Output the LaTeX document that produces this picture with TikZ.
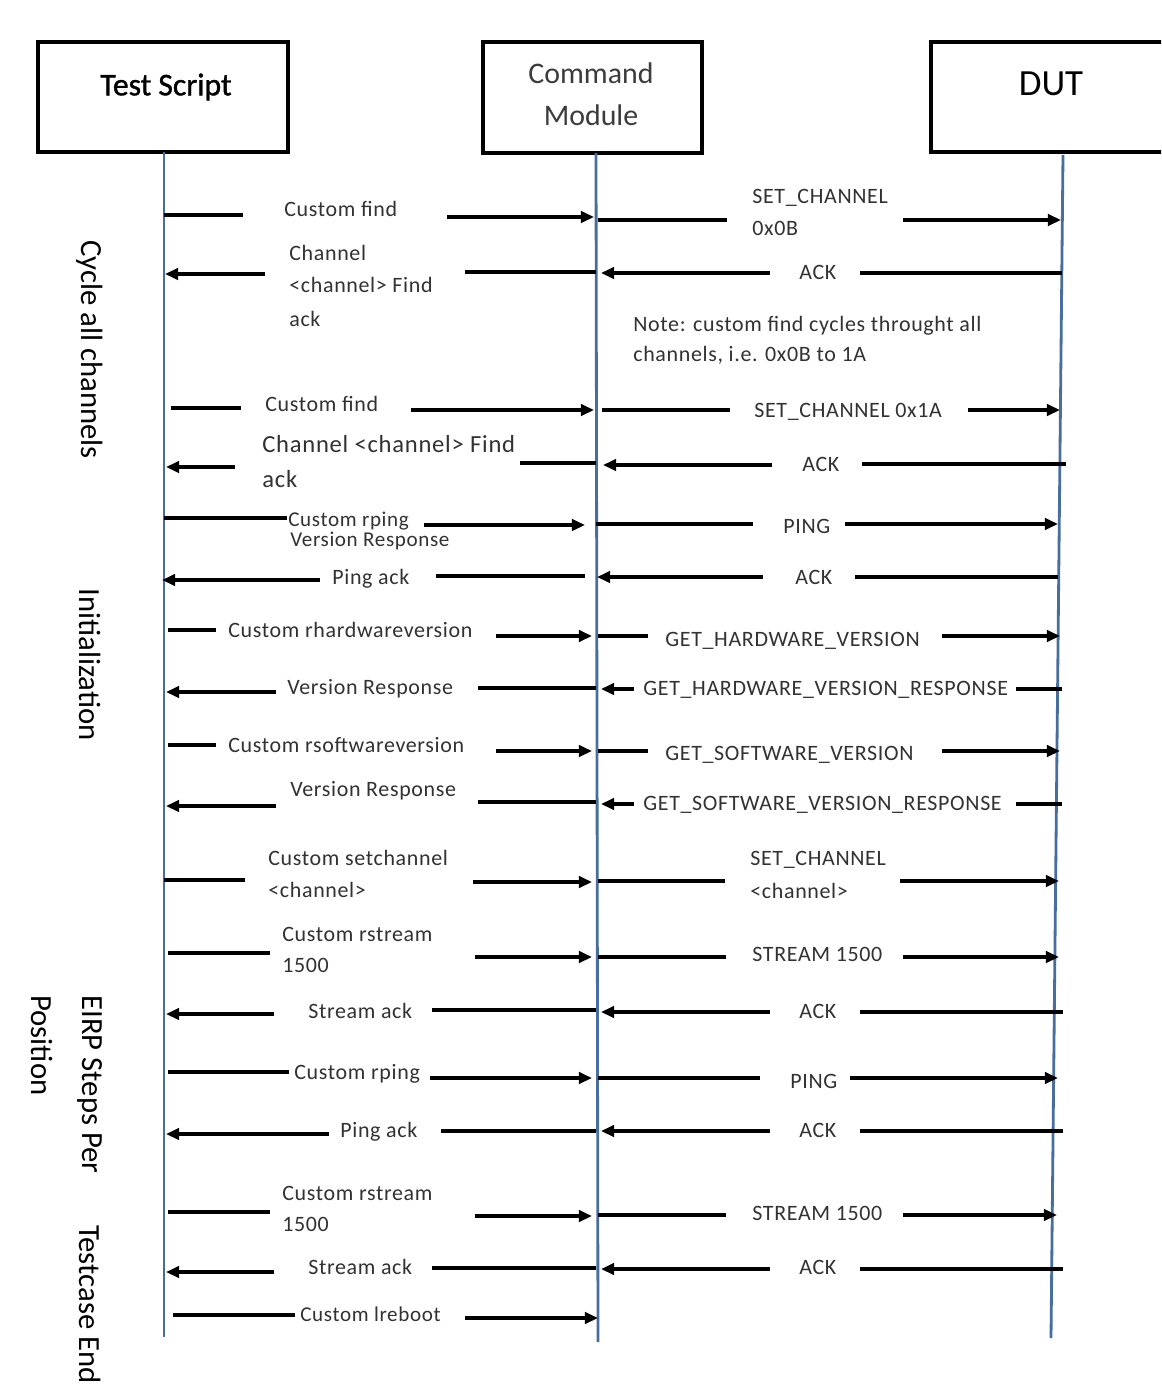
\documentclass[tikz,border=0pt]{standalone}
\usepackage{fontspec}
\setmainfont{Carlito}
\newfontfamily\lblfont[LetterSpace=3]{Carlito}
\newfontfamily\hdrfont[FakeBold=1.2]{Carlito}
\usetikzlibrary{arrows.meta}
\definecolor{lifeblue}{RGB}{72,110,160}
\definecolor{lblgrey}{RGB}{50,50,50}
\definecolor{hdrgrey}{RGB}{60,60,60}
\tikzset{
  box/.style={draw=black, line width=2.6pt},
  life/.style={draw=lifeblue, line width=1.6pt},
  msgl/.style={draw=black, line width=2pt},
  msga/.style={draw=black, line width=2pt, -{Triangle[length=7.5pt,width=6.5pt]}},
  lbl/.style={font=\lblfont\fontsize{12.5}{15}\selectfont, text=lblgrey, inner sep=0, anchor=base west},
  lblbig/.style={font=\lblfont\fontsize{14}{17}\selectfont, text=lblgrey, inner sep=0, anchor=base west},
  lblsm/.style={font=\lblfont\fontsize{12}{14}\selectfont, text=lblgrey, inner sep=0, anchor=base west},
  hdr/.style={font=\hdrfont\fontsize{18}{22}\selectfont, inner sep=0},
  side/.style={font=\fontsize{17.5}{21}\selectfont, rotate=-90, inner sep=0, anchor=west},
}
\begin{document}
\begin{tikzpicture}[x=0.02cm, y=-0.02cm]
\useasboundingbox (0,0) rectangle (1161,1399);
\clip (0,0) rectangle (1161,1399);
\fill[white] (0,0) rectangle (1161,1399);

% Header boxes
\draw[box] (38,42) rectangle (288,152);
\node[hdr] (tsT) at (166,87) {Test Script};
\draw[box] (483,42) rectangle (702,153);
\node[hdr, font=\fontsize{17}{22}\selectfont, text=hdrgrey] (cmT1) at (591,73) {Command};
\node[hdr, font=\fontsize{17}{22}\selectfont, text=hdrgrey] (cmT2) at (591,115) {Module};
\draw[box] (931,42) rectangle (1180,152);
\node[hdr, font=\fontsize{21}{25}\selectfont] (dutT) at (1051,84) {DUT};

% Lifelines
\coordinate (tsA) at (164,152); \coordinate (tsB) at (164,1337);
\coordinate (cmA) at (596,153); \coordinate (cmB) at (598,1342);
\coordinate (duA) at (1063,155); \coordinate (duB) at (1051,1338);
\draw[life] (tsA) -- (tsB);
\draw[life] (cmA) -- (cmB);
\draw[life] (duA) -- (duB);

% Side labels
\node[side] (s1) at (90,240) {Cycle all channels};
\node[side] (s2) at (90,588) {Initialization};
\node[side] (s3a) at (90,995) {EIRP Steps Per};
\node[side] (s3b) at (42,995) {Position};
\node[side] (s4) at (90,1225) {Testcase End};

% ---------- Test Script <-> Command Module ----------
\node[lbl] (l1) at (284,216) {Custom find};
\draw[msgl] (164,215) -- (243,215); \draw[msga] (447,217) -- (594,217);

\node[lbl] (l2a) at (289,260) {Channel};
\node[lbl] (l2b) at (289,292) {<channel> Find};
\node[lbl] (l2c) at (289,326) {ack};
\draw[msga] (265,274) -- (165,274); \draw[msgl] (465,272) -- (596,272);

\node[lbl] (l3) at (265,411) {Custom find};
\draw[msgl] (171,408) -- (241,408); \draw[msga] (411,410) -- (594,410);

\node[lblbig] (l4a) at (262,452) {Channel <channel>  Find};
\node[lblbig] (l4b) at (262,487) {ack};
\draw[msga] (235,467) -- (166,467); \draw[msgl] (520,463) -- (596,463);

\node[lblsm] (l5a) at (288,526) {Custom rping};
\node[lblsm] (l5b) at (290,546) {Version Response};
\draw[msgl] (164,518) -- (287,518); \draw[msga] (424,525) -- (585,525);

\node[lbl] (l6) at (332,584) {Ping ack};
\draw[msga] (320,580) -- (162,580); \draw[msgl] (436,576) -- (585,576);

\node[lbl] (l7) at (228,637) {Custom rhardwareversion};
\draw[msgl] (168,630) -- (216,630); \draw[msga] (496,636) -- (592,636);

\node[lbl] (l8) at (287,694) {Version Response};
\draw[msga] (276,692) -- (166,692); \draw[msgl] (478,688) -- (596,688);

\node[lbl] (l9) at (228,752) {Custom rsoftwareversion};
\draw[msgl] (168,745) -- (216,745); \draw[msga] (496,751) -- (592,751);

\node[lbl] (l10) at (290,796) {Version Response};
\draw[msga] (276,806) -- (166,806); \draw[msgl] (478,802) -- (596,802);

\node[lbl] (l11a) at (268,865) {Custom  setchannel};
\node[lbl] (l11b) at (268,897) {<channel>};
\draw[msgl] (164,880) -- (245,880); \draw[msga] (473,882) -- (592,882);

\node[lbl] (l12a) at (282,941) {Custom  rstream};
\node[lbl] (l12b) at (282,972) {1500};
\draw[msgl] (168,953) -- (270,953); \draw[msga] (475,957) -- (592,957);

\node[lbl] (l13) at (308,1018) {Stream ack};
\draw[msga] (274,1014) -- (166,1014); \draw[msgl] (432,1010) -- (596,1010);

\node[lbl] (l14) at (294,1079) {Custom rping};
\draw[msgl] (168,1072) -- (289,1072); \draw[msga] (430,1078) -- (592,1078);

\node[lbl] (l15) at (340,1137) {Ping ack};
\draw[msga] (329,1134) -- (166,1134); \draw[msgl] (441,1131) -- (596,1131);

\node[lbl] (l16a) at (282,1200) {Custom  rstream};
\node[lbl] (l16b) at (282,1231) {1500};
\draw[msgl] (168,1212) -- (270,1212); \draw[msga] (475,1216) -- (592,1216);

\node[lbl] (l17) at (308,1274) {Stream ack};
\draw[msga] (274,1272) -- (166,1272); \draw[msgl] (432,1268) -- (596,1268);

\node[lblsm] (l18) at (300,1321) {Custom lreboot};
\draw[msgl] (173,1315) -- (295,1315); \draw[msga] (465,1318) -- (598,1318);

% ---------- Command Module <-> DUT ----------
\node[lbl] (r1a) at (752,203) {SET\_CHANNEL};
\node[lbl] (r1b) at (752,235) {0x0B};
\draw[msgl] (598,220) -- (727,220); \draw[msga] (903,220) -- (1061,220);

\node[lbl] (r2) at (799,279) {ACK};
\draw[msga] (770,273) -- (601,273); \draw[msgl] (860,273) -- (1062,273);

\node[lbl] (note1) at (633,331) {Note: custom find  cycles  throught all};
\node[lbl] (note2) at (633,361) {channels, i.e. 0x0B to 1A};

\node[lbl] (r3) at (754,417) {SET\_CHANNEL 0x1A};
\draw[msgl] (602,410) -- (730,410); \draw[msga] (968,410) -- (1060,410);

\node[lbl] (r4) at (802,471) {ACK};
\draw[msga] (772,465) -- (603,465); \draw[msgl] (862,464) -- (1066,464);

\node[lbl] (r5) at (783,533) {PING};
\draw[msgl] (596,524) -- (753,524); \draw[msga] (845,524) -- (1058,524);

\node[lbl] (r6) at (795,584) {ACK};
\draw[msga] (763,577) -- (597,577); \draw[msgl] (855,577) -- (1058,577);

\node[lbl] (r7) at (665,646) {GET\_HARDWARE\_VERSION};
\draw[msgl] (598,636) -- (648,636); \draw[msga] (942,636) -- (1060,636);

\node[lbl] (r8) at (643,695) {GET\_HARDWARE\_VERSION\_RESPONSE};
\draw[msga] (634,689) -- (601,689); \draw[msgl] (1016,689) -- (1062,689);

\node[lbl] (r9) at (665,760) {GET\_SOFTWARE\_VERSION};
\draw[msgl] (598,751) -- (648,751); \draw[msga] (942,751) -- (1060,751);

\node[lbl] (r10) at (643,810) {GET\_SOFTWARE\_VERSION\_RESPONSE};
\draw[msga] (634,804) -- (601,804); \draw[msgl] (1016,804) -- (1062,804);

\node[lbl] (r11a) at (750,865) {SET\_CHANNEL};
\node[lbl] (r11b) at (750,898) {<channel>};
\draw[msgl] (598,881) -- (725,881); \draw[msga] (900,881) -- (1059,881);

\node[lbl] (r12) at (752,961) {STREAM  1500};
\draw[msgl] (598,957) -- (726,957); \draw[msga] (903,957) -- (1059,957);

\node[lbl] (r13) at (799,1018) {ACK};
\draw[msga] (770,1012) -- (601,1012); \draw[msgl] (860,1012) -- (1063,1012);

\node[lbl] (r14) at (790,1088) {PING};
\draw[msgl] (598,1078) -- (760,1078); \draw[msga] (850,1078) -- (1058,1078);

\node[lbl] (r15) at (799,1137) {ACK};
\draw[msga] (770,1131) -- (601,1131); \draw[msgl] (860,1131) -- (1063,1131);

\node[lbl] (r16) at (752,1220) {STREAM  1500};
\draw[msgl] (598,1215) -- (726,1215); \draw[msga] (903,1215) -- (1057,1215);

\node[lbl] (r17) at (799,1274) {ACK};
\draw[msga] (770,1269) -- (601,1269); \draw[msgl] (860,1269) -- (1063,1269);
\end{tikzpicture}
\end{document}
